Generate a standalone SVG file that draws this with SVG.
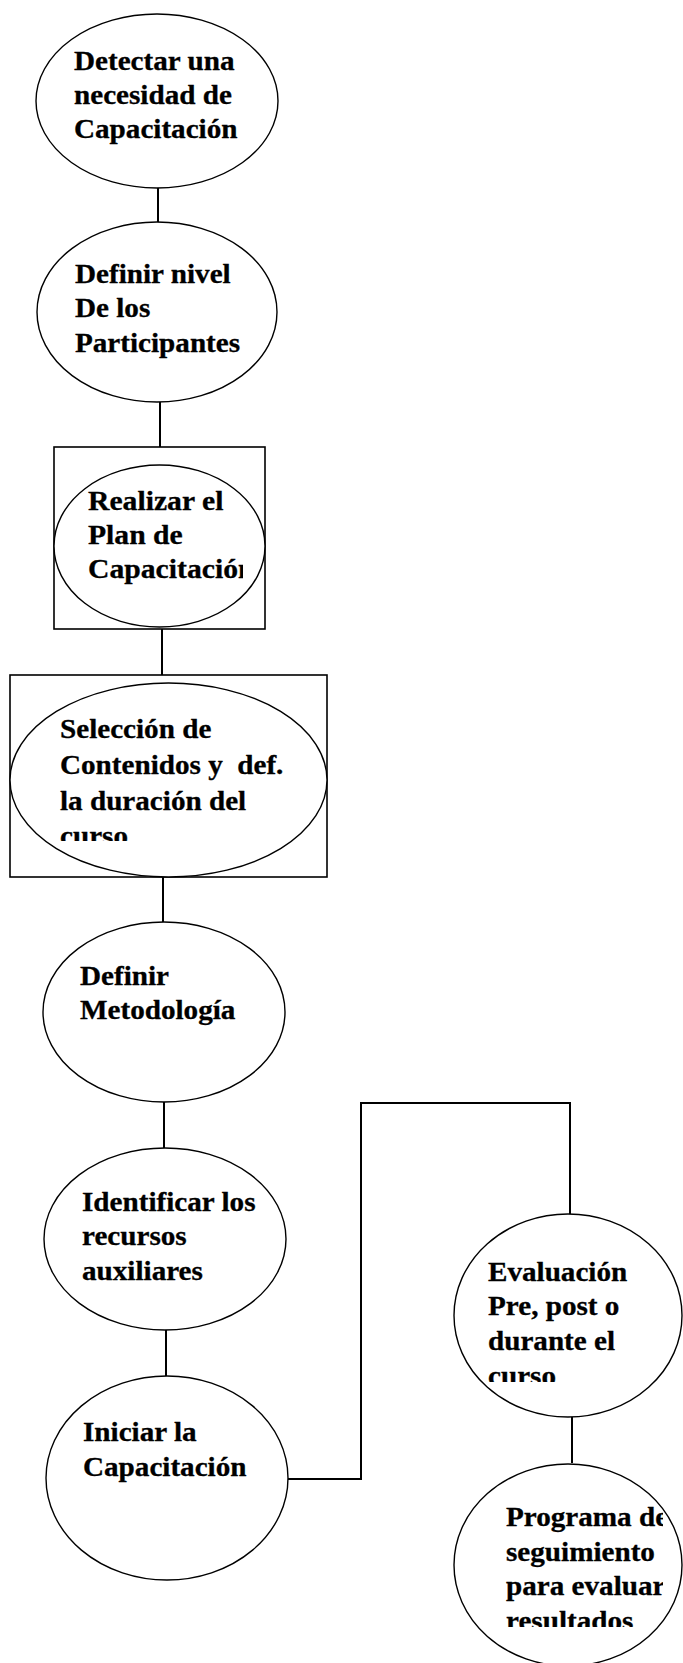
<svg xmlns="http://www.w3.org/2000/svg" width="683" height="1663" viewBox="0 0 683 1663">
<style>
.bg{fill:#fff}
.sh{fill:#fff;stroke:#000;stroke-width:1.4}
.bx{fill:none;stroke:#000;stroke-width:1.6}
.cn{fill:none;stroke:#000;stroke-width:2}
.t{font-family:"Liberation Serif","Times New Roman",serif;font-weight:bold;font-size:26.5px;fill:#000;stroke:#000;stroke-width:0.3}
</style>
<defs>
<clipPath id="c3"><rect x="0" y="440" width="243" height="200"/></clipPath>
<clipPath id="c4"><rect x="0" y="680" width="340" height="161"/></clipPath>
<clipPath id="c8"><rect x="440" y="1220" width="243" height="162"/></clipPath>
<clipPath id="c9"><rect x="440" y="1470" width="223" height="157"/></clipPath>
</defs>
<rect class="bg" x="0" y="0" width="683" height="1663"/>
<g id="connectors">
<line class="cn" x1="158" y1="188" x2="158" y2="222"/>
<line class="cn" x1="160" y1="402" x2="160" y2="447"/>
<line class="cn" x1="162" y1="629" x2="162" y2="675"/>
<line class="cn" x1="163" y1="877" x2="163" y2="922"/>
<line class="cn" x1="164" y1="1102" x2="164" y2="1148"/>
<line class="cn" x1="166" y1="1330" x2="166" y2="1376"/>
<path class="cn" d="M288 1479 H361 V1103 H570 V1214"/>
<line class="cn" x1="572" y1="1417" x2="572" y2="1463"/>
</g>
<g id="n1">
<ellipse class="sh" cx="157" cy="101" rx="121" ry="87"/>
<g transform="translate(74,0) scale(1.1,1)">
<text class="t" x="0" y="70">Detectar una</text>
<text class="t" x="0" y="104">necesidad de</text>
<text class="t" x="0" y="138">Capacitación</text>
</g>
</g>
<g id="n2">
<ellipse class="sh" cx="157" cy="312" rx="120" ry="90"/>
<g transform="translate(75,0) scale(1.1,1)">
<text class="t" x="0" y="283">Definir nivel</text>
<text class="t" x="0" y="317">De los</text>
<text class="t" x="0" y="352">Participantes</text>
</g>
</g>
<g id="n3">
<rect class="bx" x="54" y="447" width="211" height="182"/>
<ellipse class="sh" cx="159.5" cy="546" rx="105.5" ry="81"/>
<g clip-path="url(#c3)">
<g transform="translate(88,0) scale(1.12,1)">
<text class="t" x="0" y="510">Realizar el</text>
<text class="t" x="0" y="544">Plan de</text>
<text class="t" x="0" y="578">Capacitación</text>
</g>
</g>
</g>
<g id="n4">
<rect class="bx" x="10" y="675" width="317" height="202"/>
<ellipse class="sh" cx="168.5" cy="780" rx="158.5" ry="97"/>
<g clip-path="url(#c4)">
<g transform="translate(60,0) scale(1.1,1)">
<text class="t" x="0" y="738">Selección de</text>
<text class="t" x="0" y="774">Contenidos y&#160; def.</text>
<text class="t" x="0" y="810">la duración del</text>
<text class="t" x="0" y="845">curso</text>
</g>
</g>
</g>
<g id="n5">
<ellipse class="sh" cx="164" cy="1012" rx="121" ry="90"/>
<g transform="translate(80,0) scale(1.1,1)">
<text class="t" x="0" y="985">Definir</text>
<text class="t" x="0" y="1019">Metodología</text>
</g>
</g>
<g id="n6">
<ellipse class="sh" cx="165" cy="1239" rx="121" ry="91"/>
<g transform="translate(82,0) scale(1.1,1)">
<text class="t" x="0" y="1211">Identificar los</text>
<text class="t" x="0" y="1245">recursos</text>
<text class="t" x="0" y="1280">auxiliares</text>
</g>
</g>
<g id="n7">
<ellipse class="sh" cx="167" cy="1478" rx="121" ry="102"/>
<g transform="translate(83,0) scale(1.1,1)">
<text class="t" x="0" y="1441">Iniciar la</text>
<text class="t" x="0" y="1476">Capacitación</text>
</g>
</g>
<g id="n8">
<ellipse class="sh" cx="568" cy="1315.5" rx="114" ry="101.5"/>
<g clip-path="url(#c8)">
<g transform="translate(488,0) scale(1.1,1)">
<text class="t" x="0" y="1281">Evaluación</text>
<text class="t" x="0" y="1315">Pre, post o</text>
<text class="t" x="0" y="1350">durante el</text>
<text class="t" x="0" y="1385">curso</text>
</g>
</g>
</g>
<g id="n9">
<ellipse class="sh" cx="568" cy="1565" rx="114" ry="101"/>
<g clip-path="url(#c9)">
<g transform="translate(506,0) scale(1.1,1)">
<text class="t" x="0" y="1526">Programa de</text>
<text class="t" x="0" y="1561">seguimiento</text>
<text class="t" x="0" y="1595">para evaluar</text>
<text class="t" x="0" y="1630">resultados</text>
</g>
</g>
</g>
</svg>
